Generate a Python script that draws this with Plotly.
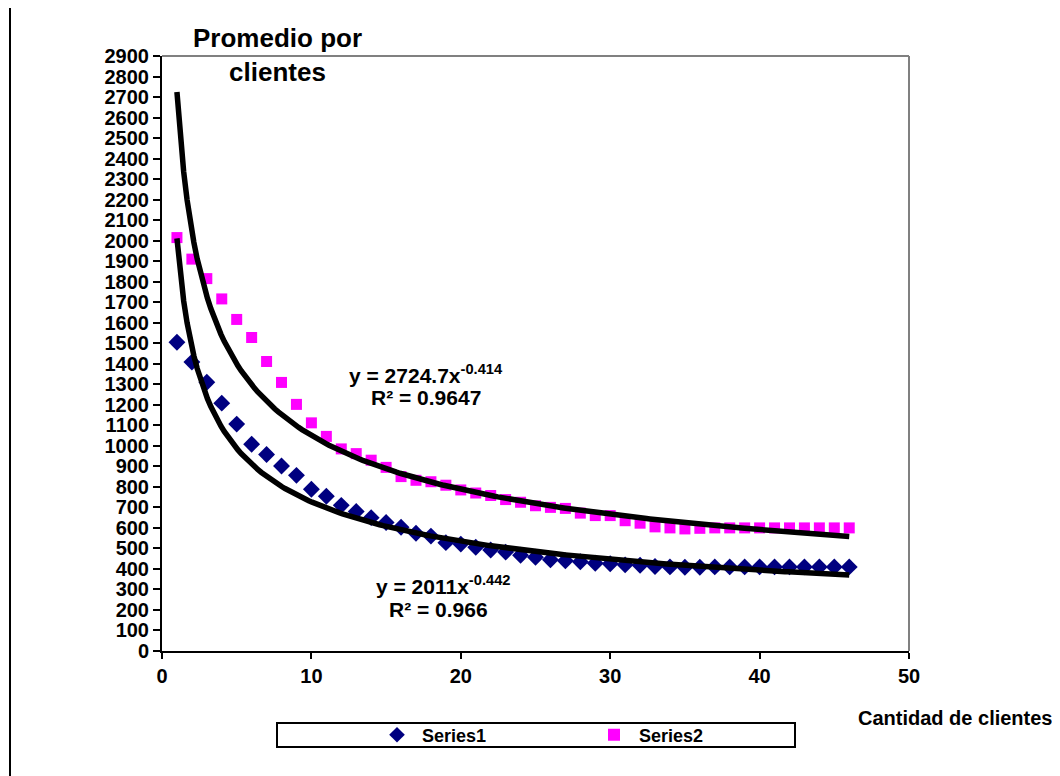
import numpy as np
import plotly.graph_objects as go

# ---- data ----
x_vals = list(range(1, 47))
series1 = [1505, 1408, 1310, 1208, 1106, 1008, 958, 902, 856, 788,
           754, 710, 680, 650, 626, 603, 574, 560, 528, 521,
           506, 492, 482, 467, 457, 445, 440, 435, 428, 425,
           420, 418, 412, 410, 408, 408, 410, 410, 410, 410,
           410, 410, 410, 410, 410, 410]
series2 = [2015, 1910, 1815, 1716, 1616, 1528, 1411, 1309, 1202, 1112,
           1046, 985, 962, 930, 895, 850, 832, 825, 808, 785,
           770, 758, 738, 725, 708, 700, 695, 672, 660, 660,
           635, 623, 605, 600, 595, 598, 600, 600, 600, 600,
           600, 600, 600, 600, 600, 600]
series_names = ["Series1", "Series2"]

# trendline equations shown in the chart (y = a * x^b)
trend1 = dict(a=2011.0, b=-0.442, r2="0.966")
trend2 = dict(a=2724.7, b=-0.414, r2="0.9647")

x_ticks = [0, 10, 20, 30, 40, 50]
y_ticks = list(range(0, 3000, 100))

FONT = "Liberation Sans, Arial, sans-serif"

xt = np.linspace(1, 46, 200)

fig = go.Figure()
fig.add_trace(go.Scatter(
    x=x_vals, y=series1, mode="markers", name=series_names[0],
    marker=dict(symbol="diamond", size=13, color="#000080", line=dict(width=0))))
fig.add_trace(go.Scatter(
    x=x_vals, y=series2, mode="markers", name=series_names[1],
    marker=dict(symbol="square", size=11, color="#FF00FF", line=dict(width=0))))
for t in (trend1, trend2):
    fig.add_trace(go.Scatter(
        x=xt, y=t["a"] * xt ** t["b"], mode="lines", showlegend=False,
        line=dict(color="black", width=5.5), hoverinfo="skip"))

# page has an 8px body margin; screen coords = figure coords + 8
OFF = 8
W, H = 1060 - OFF, 776 - OFF
L_s, R_s, T_s, B_s = 162, 909, 56, 651   # plot area in screen pixels
L, T = L_s - OFF, T_s - OFF
R, B = W - (R_s - OFF), H - (B_s - OFF)
pw, ph = R_s - L_s, B_s - T_s

def px(xs):
    return (xs - L_s) / pw

def py(ys):
    return 1 - (ys - T_s) / ph

fig.update_layout(
    width=W, height=H,
    margin=dict(l=L, r=R, t=T, b=B, autoexpand=False),
    paper_bgcolor="white", plot_bgcolor="white",
    font=dict(family=FONT, color="black"),
    showlegend=True,
    legend=dict(orientation="h", x=px(372), xanchor="left", y=py(735), yanchor="middle",
                font=dict(size=18, weight="bold", family=FONT),
                bgcolor="rgba(0,0,0,0)", borderwidth=0, itemwidth=40,
                entrywidth=162, entrywidthmode="pixels", itemsizing="constant"),
    xaxis=dict(range=[0, 50], tickvals=x_ticks, showgrid=False, zeroline=False,
               showline=True, linecolor="black", linewidth=2,
               ticks="outside", ticklen=6, tickwidth=2, tickcolor="black",
               tickfont=dict(size=20, weight="bold", family=FONT)),
    yaxis=dict(range=[0, 2900], tickvals=y_ticks, showgrid=False, zeroline=False,
               showline=True, linecolor="black", linewidth=2,
               ticks="outside", ticklen=7, tickwidth=2, tickcolor="black",
               tickfont=dict(size=20, weight="bold", family=FONT)),
)

shapes = [
    dict(type="line", xref="paper", yref="paper", x0=0, x1=1, y0=1, y1=1,
         line=dict(color="#808080", width=2)),
    dict(type="line", xref="paper", yref="paper", x0=1, x1=1, y0=0, y1=1,
         line=dict(color="#808080", width=2)),
    dict(type="rect", xref="paper", yref="paper", x0=px(277), x1=px(795),
         y0=py(747), y1=py(723), line=dict(color="black", width=2)),
    dict(type="line", xref="paper", yref="paper", x0=px(10), x1=px(10),
         y0=py(5), y1=py(776), line=dict(color="black", width=2)),
    dict(type="line", xref="paper", yref="paper", x0=px(10), x1=px(1060),
         y0=py(5), y1=py(5), line=dict(color="#e8e8e8", width=2)),
]
fig.update_layout(shapes=shapes)

def eq_text(t):
    return "y = %gx<sup>%g</sup>" % (t["a"], t["b"])

EQ = 21
ann = [
    dict(text="<b>Promedio por<br>clientes</b>", xref="paper", yref="paper",
         x=px(277), y=py(55), xanchor="center", yanchor="middle",
         font=dict(size=26, family=FONT), showarrow=False),
    dict(text="<b>" + eq_text(trend2) + "</b>", xref="paper", yref="paper",
         x=px(426), y=py(374), xanchor="center", yanchor="middle",
         font=dict(size=EQ, family=FONT), showarrow=False),
    dict(text="<b>R² = " + trend2["r2"] + "</b>", xref="paper", yref="paper",
         x=px(426), y=py(397), xanchor="center", yanchor="middle",
         font=dict(size=EQ, family=FONT), showarrow=False),
    dict(text="<b>" + eq_text(trend1) + "</b>", xref="paper", yref="paper",
         x=px(443), y=py(585), xanchor="center", yanchor="middle",
         font=dict(size=EQ, family=FONT), showarrow=False),
    dict(text="<b>R² = " + trend1["r2"] + "</b>", xref="paper", yref="paper",
         x=px(438), y=py(609), xanchor="center", yanchor="middle",
         font=dict(size=EQ, family=FONT), showarrow=False),
    dict(text="<b>Cantidad de clientes</b>", xref="paper", yref="paper",
         x=px(1055), y=py(718), xanchor="right", yanchor="middle",
         font=dict(size=20, family=FONT), showarrow=False),
]
fig.update_layout(annotations=ann)

fig.write_html("out.html")
